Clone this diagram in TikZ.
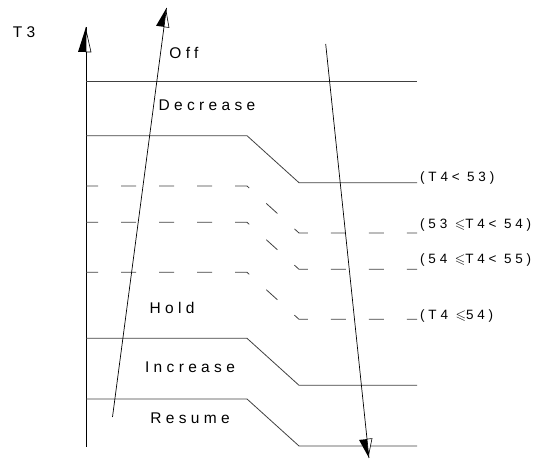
\documentclass[tikz,border=0pt]{standalone}
\usepackage{fontspec}
\usepackage{amssymb}
\setmainfont{Liberation Sans}
\newfontfamily\spacedfont[LetterSpace=28]{Liberation Sans}
\usetikzlibrary{decorations.markings}
\tikzset{
  level/.style={line width=0.8pt, black!75},
  dashlevel/.style={level, dash pattern=on 15pt off 23pt, dash phase=3pt},
  halftip/.style 2 args={postaction={decorate}, decoration={markings,
    mark=at position 1 with {
      \fill[black] (0,0) -- (-#2,{#1*8}) -- (-#2,0) -- cycle;
      \draw[black, fill=white, line width=0.6pt] (-3,0) -- (-#2,{-#1*5}) -- (-#2,0) -- cycle;}}},
  zone/.style={font=\spacedfont\fontsize{15.5}{18}\selectfont},
  cond/.style={anchor=west, inner sep=0pt, font=\spacedfont\fontsize{13.5}{16}\selectfont},
}
\begin{document}
\begin{tikzpicture}[x=1pt, y=1pt]
    \useasboundingbox (0,0) rectangle (536,460);
    % Axis
    \coordinate (O) at (86,13);
    \coordinate (Top) at (86,433);
    \draw[line width=0.8pt, halftip={1}{25}] (O) -- (Top);
    \node[zone] (T3) at (24,428) {T3};
    % Zone boundaries
    \draw[level] (86,378.3) -- (417,378.3);
    \foreach \y in {324.3, 121.7, 61}
        \draw[level] (86,\y) -- (247,\y) -- (299,\y-47) -- (417,\y-47);
    \foreach \y in {274, 237.7, 187.7}
        \draw[dashlevel] (86,\y) -- (247,\y) -- (299,\y-47) -- (417,\y-47);
    % Zone names
    \node[zone] (off) at (184,407) {Off};
    \node[zone] (dec) at (207,355) {Decrease};
    \node[zone] (hold) at (172,152) {Hold};
    \node[zone] (inc) at (190,93) {Increase};
    \node[zone] (res) at (190,42) {Resume};
    % Conditions
    \node[cond] (c1) at (420,282) {(T4< 53)};
    \node[cond] (c2) at (420,235) {(53 $\leqslant$T4< 54)};
    \node[cond] (c3) at (420,200) {(54 $\leqslant$T4< 55)};
    \node[cond] (c4) at (420,144.3) {(T4 $\leqslant$54)};
    % Rising and falling T3
    \coordinate (UpStart) at (112.5,43);
    \coordinate (UpTip) at (166.5,452);
    \draw[line width=0.7pt, halftip={1}{19}] (UpStart) -- (UpTip);
    \coordinate (DnStart) at (325.7,416);
    \coordinate (DnTip) at (369,2);
    \draw[line width=0.7pt, halftip={-1}{19}] (DnStart) -- (DnTip);
\end{tikzpicture}
\end{document}
